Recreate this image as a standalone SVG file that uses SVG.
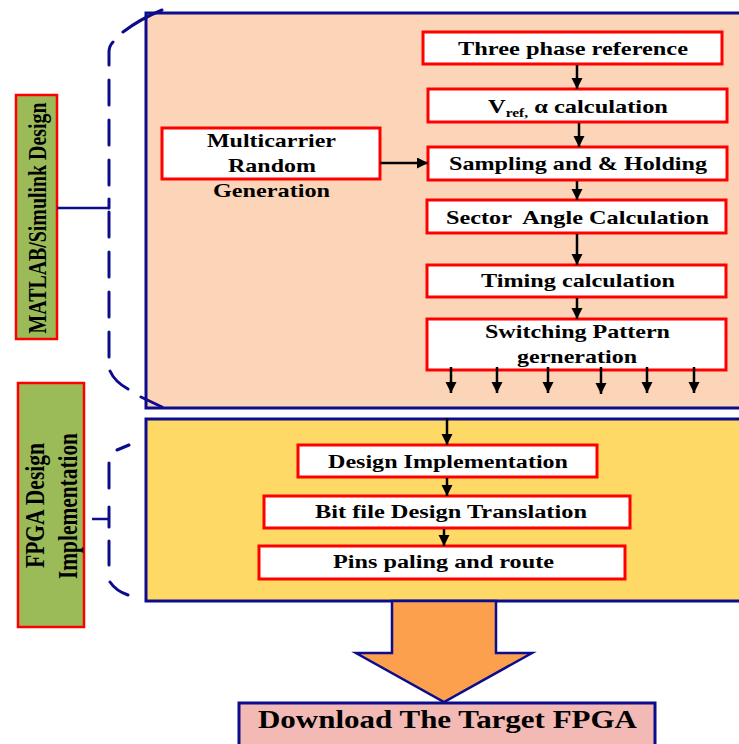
<svg xmlns="http://www.w3.org/2000/svg" width="739" height="744" viewBox="0 0 739 744">
<style>
.t{font-family:"Liberation Serif","Times New Roman",serif;font-weight:bold;fill:#000;}
.box{fill:#fff;stroke:#ff0000;stroke-width:3;}
.lbl{fill:#9bbb59;stroke:#ff0000;stroke-width:2.5;}
.nv{stroke:#0c0c8c;stroke-width:3;}
.br{fill:none;stroke:#0c0c8c;stroke-width:3;stroke-linecap:round;}
.ln{fill:none;stroke:#0c0c8c;stroke-width:2.5;}
.ar{fill:none;stroke:#000;stroke-width:2.5;marker-end:url(#ah);}
</style>
<defs>
<marker id="ah" markerUnits="userSpaceOnUse" markerWidth="12" markerHeight="12" refX="11" refY="5.5" orient="auto">
<path d="M0,0 L11,5.5 L0,11 z" fill="#000"/>
</marker>
</defs>
<rect width="739" height="744" fill="#fff"/>

<g id="matlab-section">
<rect x="146" y="13" width="600" height="395" fill="#fcd5b8" class="nv"/>
</g>
<g id="fpga-section">
<rect x="146" y="419" width="600" height="182" fill="#ffd965" class="nv"/>
</g>

<g id="label-matlab">
<rect x="16" y="95" width="41" height="244" class="lbl"/>
<text class="t" font-size="19.5" text-anchor="middle" textLength="231" lengthAdjust="spacingAndGlyphs" transform="translate(46,218) rotate(-90) scale(1,1.3)">MATLAB/Simulink Design</text>
</g>
<g id="label-fpga">
<rect x="18" y="383" width="66" height="244" class="lbl"/>
<text class="t" font-size="21" text-anchor="middle" textLength="125" lengthAdjust="spacingAndGlyphs" transform="translate(44,505.5) rotate(-90) scale(1,1.3)">FPGA Design</text>
<text class="t" font-size="21" text-anchor="middle" textLength="146" lengthAdjust="spacingAndGlyphs" transform="translate(77,506) rotate(-90) scale(1,1.3)">Implementation</text>
</g>

<g id="three-phase">
<rect x="423" y="32" width="299" height="32" class="box"/>
<text class="t" x="458" y="55" font-size="19" textLength="230" lengthAdjust="spacingAndGlyphs">Three phase reference</text>
</g>
<g id="vref">
<rect x="428" y="89" width="299" height="33" class="box"/>
<text class="t" x="488" y="113" font-size="19" textLength="180" lengthAdjust="spacingAndGlyphs">V<tspan font-size="12" dy="4">ref,</tspan><tspan dy="-4"> α calculation</tspan></text>
</g>
<g id="sampling">
<rect x="428" y="147" width="299" height="33" class="box"/>
<text class="t" x="449" y="170" font-size="19" textLength="258" lengthAdjust="spacingAndGlyphs">Sampling and &amp; Holding</text>
</g>
<g id="sector">
<rect x="427" y="200" width="299" height="33" class="box"/>
<text class="t" x="446" y="224" font-size="19" textLength="263" lengthAdjust="spacingAndGlyphs" xml:space="preserve">Sector  Angle Calculation</text>
</g>
<g id="timing">
<rect x="427" y="265" width="299" height="32" class="box"/>
<text class="t" x="481" y="287" font-size="19" textLength="194" lengthAdjust="spacingAndGlyphs">Timing calculation</text>
</g>
<g id="switching">
<rect x="427" y="319" width="299" height="51" class="box"/>
<text class="t" x="485" y="338" font-size="19" textLength="185" lengthAdjust="spacingAndGlyphs">Switching Pattern</text>
<text class="t" x="517" y="363" font-size="19" textLength="120" lengthAdjust="spacingAndGlyphs">gerneration</text>
</g>
<g id="multicarrier">
<rect x="162" y="128" width="218" height="51" class="box"/>
<text class="t" x="207" y="147" font-size="19" textLength="129" lengthAdjust="spacingAndGlyphs">Multicarrier</text>
<text class="t" x="228" y="172" font-size="19" textLength="88" lengthAdjust="spacingAndGlyphs">Random</text>
<text class="t" x="213" y="197" font-size="19" textLength="117" lengthAdjust="spacingAndGlyphs">Generation</text>
</g>

<g id="design-impl">
<rect x="298" y="445" width="299" height="32" class="box"/>
<text class="t" x="328" y="468" font-size="18" textLength="240" lengthAdjust="spacingAndGlyphs">Design Implementation</text>
</g>
<g id="bitfile">
<rect x="264" y="496" width="366" height="32" class="box"/>
<text class="t" x="315" y="518" font-size="18" textLength="272" lengthAdjust="spacingAndGlyphs">Bit file Design Translation</text>
</g>
<g id="pins">
<rect x="259" y="546" width="366" height="33" class="box"/>
<text class="t" x="333" y="568" font-size="18" textLength="221" lengthAdjust="spacingAndGlyphs">Pins paling and route</text>
</g>

<g id="big-arrow">
<polygon points="392,601 496,601 496,653 532,653 444,702 356,653 392,653" fill="#fca04e" stroke="#0c0c8c" stroke-width="2.5"/>
</g>
<g id="download">
<rect x="239" y="703" width="416" height="50" fill="#f2b9b5" class="nv"/>
<text class="t" x="258" y="728" font-size="25" textLength="379" lengthAdjust="spacingAndGlyphs">Download The Target FPGA</text>
</g>

<g id="connectors">
<path class="br" d="M123,32 Q140,19 162,10 M113,42 Q109,46 109,52 L109,65 M109,80 L109,105 M109,120 L109,145 M109,160 L109,185 M109,199 L109,208 M109,212 L109,237 M109,252 L109,277 M109,292 L109,317 M109,332 L109,357 M110,371 Q115,382 128,389 M141,397 L162,407"/>
<path class="br" d="M117,450 L129,445 M109,463 L109,488 M109,507 L109,527 M109,541 L109,565 M110,582 Q116,591 128,595"/>
<line class="ln" x1="57" y1="208" x2="109" y2="208"/>
<line class="ln" x1="92" y1="519" x2="109" y2="519"/>
<line class="ar" x1="577" y1="65" x2="577" y2="89"/>
<line class="ar" x1="579" y1="123" x2="579" y2="147"/>
<line class="ar" x1="577" y1="181" x2="577" y2="200"/>
<line class="ar" x1="577" y1="234" x2="577" y2="265"/>
<line class="ar" x1="577" y1="298" x2="577" y2="319"/>
<line class="ar" x1="380" y1="163" x2="428" y2="163"/>
<line class="ar" x1="451" y1="367" x2="451" y2="393"/>
<line class="ar" x1="497" y1="367" x2="497" y2="393"/>
<line class="ar" x1="548" y1="367" x2="548" y2="393"/>
<line class="ar" x1="601" y1="367" x2="601" y2="394"/>
<line class="ar" x1="647" y1="367" x2="647" y2="393"/>
<line class="ar" x1="694" y1="367" x2="694" y2="393"/>
<line class="ar" x1="447" y1="418" x2="447" y2="445"/>
<line class="ar" x1="447" y1="478" x2="447" y2="496"/>
<line class="ar" x1="444" y1="529" x2="444" y2="546"/>
</g>
</svg>
